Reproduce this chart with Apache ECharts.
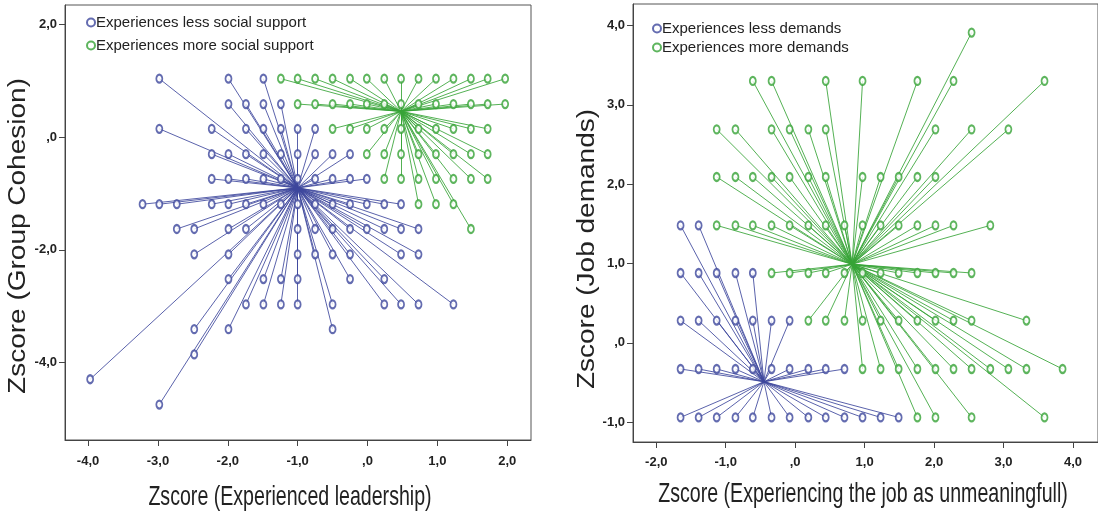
<!DOCTYPE html>
<html>
<head>
<meta charset="utf-8">
<script src="https://cdn.jsdelivr.net/npm/echarts@6/dist/echarts.min.js"></script>
<style>
  html, body { margin: 0; padding: 0; background: #fff; }
  #chart { width: 1098px; height: 515px; }
</style>
</head>
<body>
<div id="chart"></div>
<script>
// left panel: group cohesion vs experienced leadership
var cohesionLevels = [1.04, 0.59, 0.15, -0.30, -0.74, -1.19, -1.63, -2.08, -2.52, -2.97, -3.41, -3.86, -4.30, -4.75]
var lessSupportX = [
  [-2.98, -1.99, -1.49],
  [-1.99, -1.74, -1.49, -1.24],
  [-2.98, -2.23, -1.74, -1.49, -1.24, -1.00, -0.75],
  [-2.23, -1.99, -1.74, -1.49, -1.24, -1.00, -0.75, -0.50, -0.25],
  [-2.23, -1.99, -1.74, -1.49, -1.24, -1.00, -0.75, -0.50, -0.25, -0.01],
  [-3.22, -2.98, -2.73, -2.23, -1.99, -1.74, -1.49, -1.24, -1.00, -0.75, -0.50, -0.25, -0.01, 0.24, 0.48],
  [-2.73, -2.48, -1.99, -1.74, -1.00, -0.75, -0.50, -0.25, -0.01, 0.24, 0.48, 0.73],
  [-2.48, -1.99, -1.00, -0.75, -0.50, -0.25, 0.48, 0.73],
  [-1.99, -1.49, -1.24, -1.00, -0.25, 0.24],
  [-1.74, -1.49, -1.24, -1.00, -0.50, 0.24, 0.48, 0.73, 1.23],
  [-2.48, -1.99, -0.50],
  [-2.48],
  [-3.97],
  [-2.98]
]
var moreSupportX = [
  [-1.24, -1.00, -0.75, -0.50, -0.25, -0.01, 0.24, 0.48, 0.73, 0.98, 1.23, 1.48, 1.72, 1.97],
  [-1.00, -0.75, -0.50, -0.25, -0.01, 0.24, 0.48, 0.73, 0.98, 1.23, 1.48, 1.72, 1.97],
  [-0.50, -0.25, -0.01, 0.24, 0.48, 0.73, 0.98, 1.23, 1.48, 1.72],
  [-0.01, 0.24, 0.48, 0.73, 0.98, 1.23, 1.48, 1.72],
  [0.24, 0.48, 0.73, 0.98, 1.23, 1.48, 1.72],
  [0.73, 0.98, 1.23],
  [1.48]
]
var lessSupportCentroid = [-1.00, -0.90]
var moreSupportCentroid = [0.48, 0.46]

// right panel: job demands vs unmeaningful job
var demandLevels = [3.91, 3.30, 2.69, 2.09, 1.48, 0.88, 0.28, -0.33, -0.94]
var lessDemandsX = [
  [],
  [],
  [],
  [],
  [-1.65, -1.39],
  [-1.65, -1.39, -1.13, -0.86, -0.61],
  [-1.65, -1.39, -1.13, -0.86, -0.61, -0.34, -0.08],
  [-1.65, -1.39, -1.13, -0.86, -0.61, -0.34, -0.08, 0.19, 0.44, 0.71],
  [-1.65, -1.39, -1.13, -0.86, -0.61, -0.34, -0.08, 0.19, 0.44, 0.71, 0.97, 1.23, 1.49]
]
var moreDemandsX = [
  [2.54],
  [-0.61, -0.34, 0.44, 0.97, 1.76, 2.28, 3.59],
  [-1.13, -0.86, -0.34, -0.08, 0.19, 0.44, 2.02, 2.54, 3.07],
  [-1.13, -0.86, -0.61, -0.34, -0.08, 0.19, 0.44, 0.97, 1.23, 1.49, 1.76, 2.02],
  [-1.13, -0.86, -0.61, -0.34, -0.08, 0.19, 0.44, 0.71, 0.97, 1.23, 1.49, 1.76, 2.02, 2.28, 2.81],
  [-0.34, -0.08, 0.19, 0.44, 0.71, 0.97, 1.23, 1.49, 1.76, 2.02, 2.28, 2.54],
  [0.19, 0.44, 0.71, 0.97, 1.23, 1.49, 1.76, 2.02, 2.28, 2.54, 3.33],
  [0.97, 1.23, 1.49, 1.76, 2.02, 2.28, 2.54, 2.81, 3.07, 3.33, 3.85],
  [1.76, 2.02, 2.54, 3.59]
]
var lessDemandsCentroid = [-0.45, -0.49]
var moreDemandsCentroid = [0.82, 0.99]

var leftXTicks = [-4, -3, -2, -1, 0, 1, 2]
var leftYTicks = [-4, -2, 0, 2]
var rightXTicks = [-2, -1, 0, 1, 2, 3, 4]
var rightYTicks = [-1, 0, 1, 2, 3, 4]

var BLUE = '#3d479c'
var GREEN = '#36a336'
var SANS = "'Liberation Sans', Arial, sans-serif"

function toPoints (levels, rows) {
  var pts = []
  rows.forEach(function (xs, i) {
    xs.forEach(function (x) { pts.push([x, levels[i]]) })
  })
  return pts
}
function spokes (pts, c) {
  return pts.map(function (p) { return { coords: [p, c] } })
}
function fmt (v) {
  if (v === 0) return ',0'
  return (v < 0 ? '-' : '') + Math.abs(v).toFixed(1).replace('.', ',')
}

function axis (idx, min, max, ticks, margin) {
  return {
    type: 'value', gridIndex: idx, min: min, max: max,
    splitLine: { show: false },
    axisLine: { show: true, onZero: false, lineStyle: { color: '#444', width: 1 } },
    axisTick: { show: true, length: 6, customValues: ticks, lineStyle: { color: '#444' } },
    axisLabel: {
      customValues: ticks, formatter: fmt, margin: margin,
      fontFamily: SANS, fontWeight: 'bold', fontSize: 13, color: '#222'
    }
  }
}
function scatter (name, idx, pts, color) {
  return {
    name: name, type: 'scatter', xAxisIndex: idx, yAxisIndex: idx, data: pts, z: 5,
    symbol: 'emptyCircle', symbolSize: [6, 8],
    itemStyle: { color: color, borderColor: color, borderWidth: 2 }
  }
}
function spokeSeries (idx, pts, c, color) {
  return {
    type: 'lines', coordinateSystem: 'cartesian2d', xAxisIndex: idx, yAxisIndex: idx,
    data: spokes(pts, c), z: 2, silent: true,
    lineStyle: { color: color, width: 1, opacity: 0.85 }
  }
}
// axis titles: the original uses a tall, narrow face, so scale the text
function title (text, x, y, vertical) {
  return {
    type: 'text', x: x, y: y, silent: true,
    rotation: vertical ? Math.PI / 2 : 0,
    scaleX: vertical ? 1 : 0.7,
    scaleY: vertical ? 0.85 : 1,
    style: {
      text: text, fill: '#222', fontFamily: SANS, fontSize: 28,
      align: 'center', verticalAlign: 'middle'
    }
  }
}

var lessSupport = toPoints(cohesionLevels, lessSupportX)
var moreSupport = toPoints(cohesionLevels, moreSupportX)
var lessDemands = toPoints(demandLevels, lessDemandsX)
var moreDemands = toPoints(demandLevels, moreDemandsX)

var chart = echarts.init(document.getElementById('chart'))
var option = {
  animation: false,
  grid: [
    { left: 65, top: 5, width: 466, height: 435, show: true, borderColor: '#555', borderWidth: 1, backgroundColor: '#fff' },
    { left: 633, top: 4, width: 467, height: 438, show: true, borderColor: '#555', borderWidth: 1, backgroundColor: '#fff' }
  ],
  legend: [
    {
      data: ['Experiences less social support', 'Experiences more social support'],
      orient: 'vertical', left: 81, top: 10, itemGap: 8, itemWidth: 8, itemHeight: 9,
      textStyle: { fontFamily: SANS, fontSize: 15, color: '#222', padding: [0, 0, 0, -4] }
    },
    {
      data: ['Experiences less demands', 'Experiences more demands'],
      orient: 'vertical', left: 647, top: 16, itemGap: 4, itemWidth: 8, itemHeight: 9,
      textStyle: { fontFamily: SANS, fontSize: 15, color: '#222', padding: [0, 0, 0, -4] }
    }
  ],
  xAxis: [
    axis(0, -4.33, 2.34, leftXTicks, 15),
    axis(1, -2.335, 4.36, rightXTicks, 14)
  ],
  yAxis: [
    axis(0, -5.38, 2.35, leftYTicks, 8),
    axis(1, -1.25, 4.27, rightYTicks, 8)
  ],
  graphic: [
    title('Zscore (Experienced leadership)', 290, 497, false),
    title('Zscore (Experiencing the job as unmeaningfull)', 863, 494, false),
    title('Zscore (Group Cohesion)', 18, 236, true),
    title('Zscore (Job demands)', 587, 249, true)
  ],
  series: [
    spokeSeries(0, lessSupport, lessSupportCentroid, BLUE),
    spokeSeries(0, moreSupport, moreSupportCentroid, GREEN),
    scatter('Experiences less social support', 0, lessSupport, BLUE),
    scatter('Experiences more social support', 0, moreSupport, GREEN),
    spokeSeries(1, lessDemands, lessDemandsCentroid, BLUE),
    spokeSeries(1, moreDemands, moreDemandsCentroid, GREEN),
    scatter('Experiences less demands', 1, lessDemands, BLUE),
    scatter('Experiences more demands', 1, moreDemands, GREEN)
  ]
}
chart.setOption(option)
</script>
</body>
</html>
